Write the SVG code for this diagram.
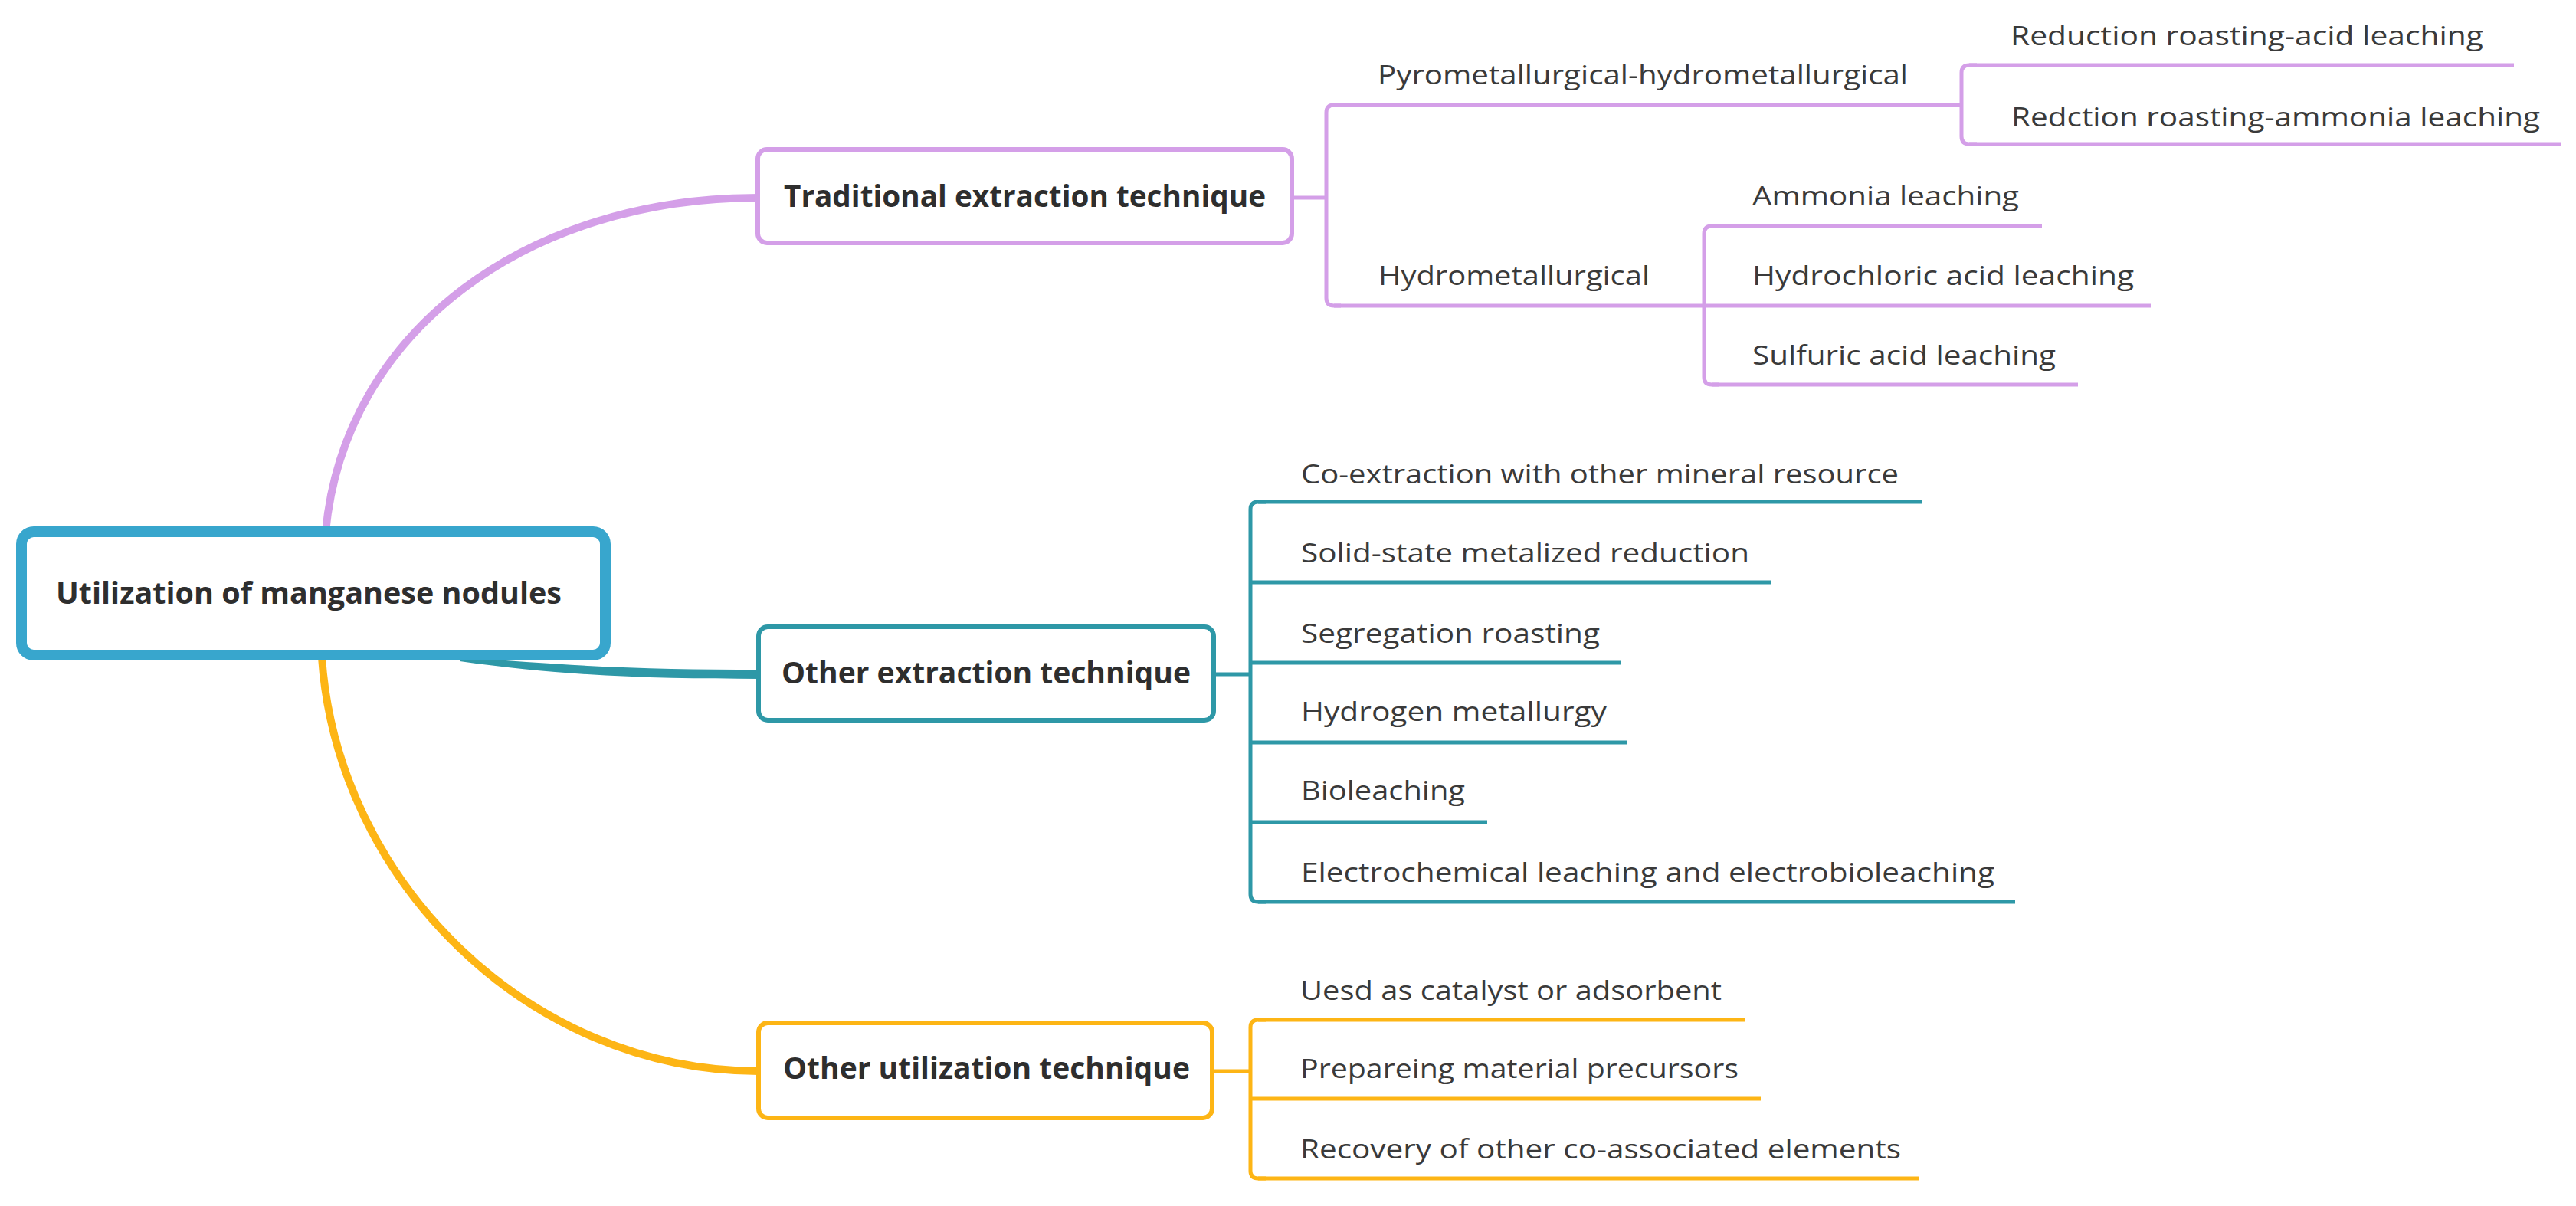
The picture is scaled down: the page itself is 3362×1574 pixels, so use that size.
<svg xmlns="http://www.w3.org/2000/svg" width="3362" height="1574" viewBox="0 0 3362 1574">
<style>
.t{font-family:"Open Sans","Noto Sans","Liberation Sans",sans-serif;font-size:35px;fill:#3a3a3a;}
.b{font-family:"Open Sans","Noto Sans","Liberation Sans",sans-serif;font-size:39px;font-weight:bold;fill:#2e2e2e;}
.pu{stroke:#D49FE8;fill:none;}
.te{stroke:#2E98A7;fill:none;}
.or{stroke:#FDB515;fill:none;}
.ln{stroke-width:5;}
.box{fill:#ffffff;stroke-width:6;}
</style>
<rect x="0" y="0" width="3362" height="1574" fill="#ffffff"/>
<g id="connectors">
  <path class="pu" stroke-width="10" d="M425,694 C450,430 690,258 990,258"/>
  <path fill="#2E98A7" d="M600,857 C760,871 860,874 992,874 L992,886 C860,886 740,883 600,863 Z"/>
  <path class="or" stroke-width="10" d="M420,858 C440,1150 690,1398 990,1398"/>
  <!-- traditional -->
  <path class="pu ln" d="M1689,258 H1731"/>
  <path class="pu ln" d="M1750,137 H1741 Q1731,137 1731,147 V389 Q1731,399 1741,399 H1750"/>
  <path class="pu ln" d="M2580,85 H2570 Q2560,85 2560,95 V178 Q2560,188 2570,188 H2580"/>
  <path class="pu ln" d="M2244,295 H2234 Q2224,295 2224,305 V492 Q2224,502 2234,502 H2244"/>
  <!-- other extraction -->
  <path class="te ln" d="M1587,880 H1632"/>
  <path class="te ln" d="M1652,655 H1642 Q1632,655 1632,665 V1167 Q1632,1177 1642,1177 H1652"/>
  <!-- other utilization -->
  <path class="or ln" d="M1585,1398 H1632"/>
  <path class="or ln" d="M1652,1331 H1642 Q1632,1331 1632,1341 V1528 Q1632,1538 1642,1538 H1652"/>
</g>
<g id="root">
  <rect x="28" y="694" width="762" height="161" rx="16" fill="#ffffff" stroke="#38A6CD" stroke-width="14"/>
  <text class="b" x="73" y="788" font-size="41" textLength="660" lengthAdjust="spacingAndGlyphs">Utilization of manganese nodules</text>
</g>
<g id="traditional">
  <rect class="box pu" x="989" y="195" width="697" height="122" rx="12"/>
  <text class="b" x="1023" y="270" textLength="629" lengthAdjust="spacingAndGlyphs">Traditional extraction technique</text>
</g>
<g id="other-extraction">
  <rect class="box te" x="990" y="818" width="594" height="122" rx="12"/>
  <text class="b" x="1020" y="892" textLength="534" lengthAdjust="spacingAndGlyphs">Other extraction technique</text>
</g>
<g id="other-utilization">
  <rect class="box or" x="990" y="1335" width="592" height="124" rx="12"/>
  <text class="b" x="1022" y="1408" textLength="531" lengthAdjust="spacingAndGlyphs">Other utilization technique</text>
</g>
<g id="pyro">
  <path class="pu ln" d="M1741,137 H2560"/>
  <text class="t" x="1798" y="110" textLength="692" lengthAdjust="spacingAndGlyphs">Pyrometallurgical-hydrometallurgical</text>
</g>
<g id="reduction-acid">
  <path class="pu ln" d="M2570,85 H3281"/>
  <text class="t" x="2624" y="59" textLength="617" lengthAdjust="spacingAndGlyphs">Reduction roasting-acid leaching</text>
</g>
<g id="reduction-ammonia">
  <path class="pu ln" d="M2570,188 H3342"/>
  <text class="t" x="2625" y="165" textLength="690" lengthAdjust="spacingAndGlyphs">Redction roasting-ammonia leaching</text>
</g>
<g id="hydro">
  <path class="pu ln" d="M1741,399 H2224"/>
  <text class="t" x="1799" y="372" textLength="354" lengthAdjust="spacingAndGlyphs">Hydrometallurgical</text>
</g>
<g id="ammonia">
  <path class="pu ln" d="M2234,295 H2665"/>
  <text class="t" x="2287" y="268" textLength="348" lengthAdjust="spacingAndGlyphs">Ammonia leaching</text>
</g>
<g id="hydrochloric">
  <path class="pu ln" d="M2224,399 H2807"/>
  <text class="t" x="2287" y="372" textLength="498" lengthAdjust="spacingAndGlyphs">Hydrochloric acid leaching</text>
</g>
<g id="sulfuric">
  <path class="pu ln" d="M2234,502 H2712"/>
  <text class="t" x="2287" y="476" textLength="396" lengthAdjust="spacingAndGlyphs">Sulfuric acid leaching</text>
</g>
<g id="co-extraction">
  <path class="te ln" d="M1642,655 H2508"/>
  <text class="t" x="1698" y="631" textLength="780" lengthAdjust="spacingAndGlyphs">Co-extraction with other mineral resource</text>
</g>
<g id="solid-state">
  <path class="te ln" d="M1632,760 H2312"/>
  <text class="t" x="1698" y="734" textLength="585" lengthAdjust="spacingAndGlyphs">Solid-state metalized reduction</text>
</g>
<g id="segregation">
  <path class="te ln" d="M1632,865 H2116"/>
  <text class="t" x="1698" y="839" textLength="390" lengthAdjust="spacingAndGlyphs">Segregation roasting</text>
</g>
<g id="hydrogen">
  <path class="te ln" d="M1632,969 H2124"/>
  <text class="t" x="1698" y="941" textLength="399" lengthAdjust="spacingAndGlyphs">Hydrogen metallurgy</text>
</g>
<g id="bioleaching">
  <path class="te ln" d="M1632,1073 H1941"/>
  <text class="t" x="1698" y="1044" textLength="214" lengthAdjust="spacingAndGlyphs">Bioleaching</text>
</g>
<g id="electrochemical">
  <path class="te ln" d="M1642,1177 H2630"/>
  <text class="t" x="1698" y="1151" textLength="905" lengthAdjust="spacingAndGlyphs">Electrochemical leaching and electrobioleaching</text>
</g>
<g id="catalyst">
  <path class="or ln" d="M1642,1331 H2277"/>
  <text class="t" x="1697" y="1305" textLength="550" lengthAdjust="spacingAndGlyphs">Uesd as catalyst or adsorbent</text>
</g>
<g id="precursors">
  <path class="or ln" d="M1632,1434 H2298"/>
  <text class="t" x="1697" y="1407" textLength="572" lengthAdjust="spacingAndGlyphs">Prepareing material precursors</text>
</g>
<g id="recovery">
  <path class="or ln" d="M1642,1538 H2505"/>
  <text class="t" x="1697" y="1512" textLength="784" lengthAdjust="spacingAndGlyphs">Recovery of other co-associated elements</text>
</g>
</svg>
